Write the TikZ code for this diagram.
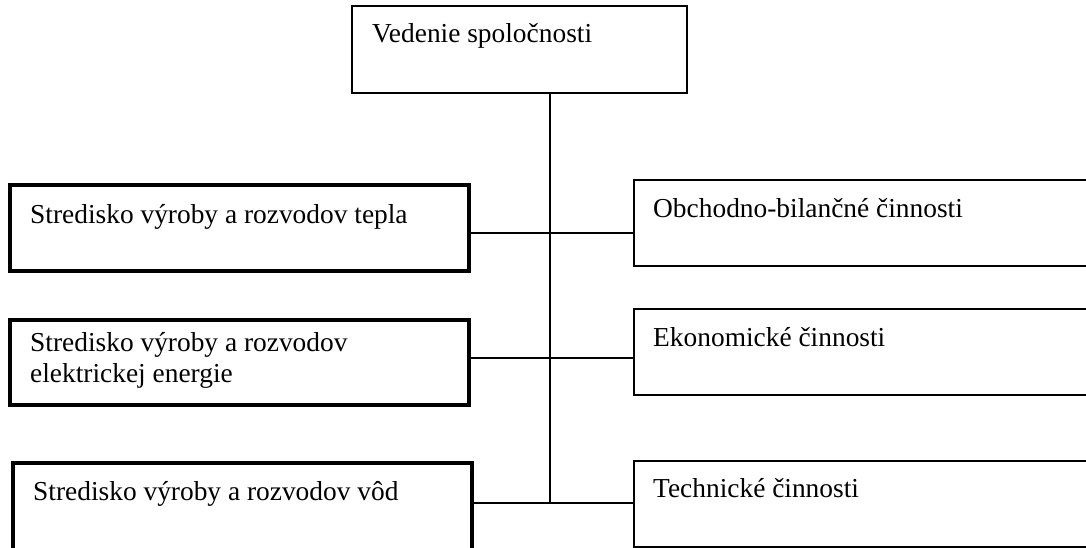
\documentclass[tikz,border=0pt]{standalone}
\usepackage{fontspec}
\setmainfont{Liberation Serif}
\usetikzlibrary{calc}
\begin{document}
\begin{tikzpicture}[x=1pt,y=-1pt,
  thinbox/.style={draw=black,line width=2pt,inner sep=0pt,outer sep=0pt,anchor=north west},
  thickbox/.style={draw=black,line width=3.6pt,inner sep=0pt,outer sep=0pt,anchor=north west},
  lbl/.style={anchor=base west,inner sep=0pt,align=left,font=\fontsize{27.4}{31}\selectfont},
  conn/.style={draw=black,line width=2pt}]
\useasboundingbox (0,0) rectangle (1086,548);
\fill[white] (0,0) rectangle (1086,548);
\clip (0,0) rectangle (1086,548);
% boxes
\node[thinbox,minimum width=335pt,minimum height=87pt] (top) at (352,6) {};
\node[thickbox,minimum width=459pt,minimum height=86pt] (l1) at (10,185) {};
\node[thickbox,minimum width=459pt,minimum height=85pt] (l2) at (10,320) {};
\node[thickbox,minimum width=459pt,minimum height=140pt] (l3) at (13,463) {};
\node[thinbox,minimum width=470pt,minimum height=86pt] (r1) at (634,180) {};
\node[thinbox,minimum width=470pt,minimum height=86pt] (r2) at (634,309) {};
\node[thinbox,minimum width=470pt,minimum height=86pt] (r3) at (634,461) {};
% texts
\node[lbl] (ttop) at ($(top.north west)+(20,37)$) {Vedenie spoločnosti};
\node[lbl] (tl1) at ($(l1.north west)+(20,38)$) {Stredisko výroby a rozvodov tepla};
\node[lbl,anchor=north west] (tl2) at ($(l2.north west)+(20,12)$) {Stredisko výroby a rozvodov\\elektrickej energie};
\node[lbl] (tl3) at ($(l3.north west)+(20,37)$) {Stredisko výroby a rozvodov vôd};
\node[lbl] (tr1) at ($(r1.north west)+(19,38)$) {Obchodno-bilančné činnosti};
\node[lbl] (tr2) at ($(r2.north west)+(19,37)$) {Ekonomické činnosti};
\node[lbl] (tr3) at ($(r3.north west)+(19,36)$) {Technické činnosti};
% junctions
\coordinate (j1) at (550,233);
\coordinate (j2) at (550,358);
\coordinate (j3) at (550,503);
% connectors
\draw[conn] (top.south -| j1) -- (j3);
\draw[conn] (l1.east |- j1) -- (r1.west |- j1);
\draw[conn] (l2.east |- j2) -- (r2.west |- j2);
\draw[conn] (l3.east |- j3) -- (r3.west |- j3);
\end{tikzpicture}
\end{document}
